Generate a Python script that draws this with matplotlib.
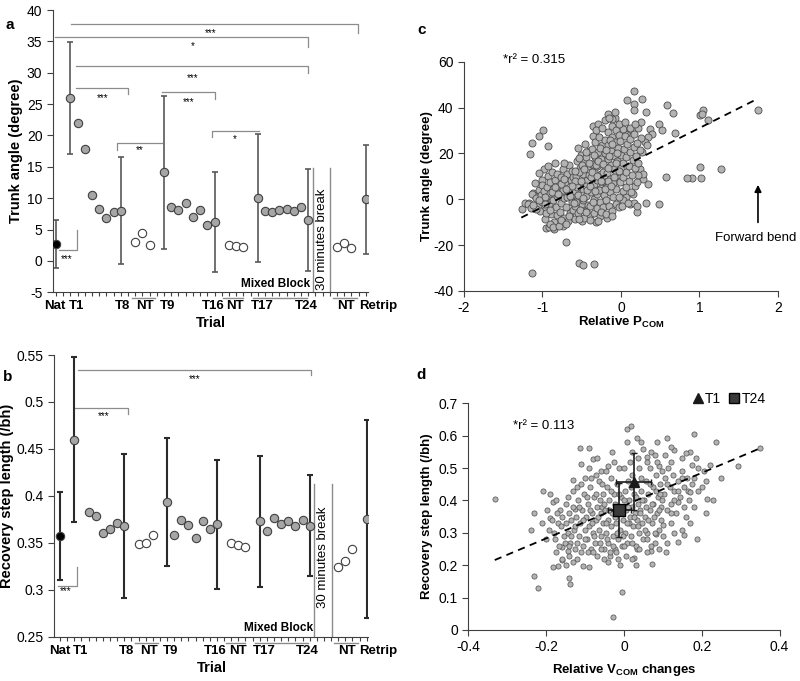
import numpy as np
import matplotlib
matplotlib.use('Agg')
import matplotlib.pyplot as plt
from matplotlib.lines import Line2D

plt.rcParams['font.family'] = ['Liberation Sans', 'DejaVu Sans']
plt.rcParams['axes.unicode_minus'] = False
plt.rcParams['mathtext.fontset'] = 'custom'
plt.rcParams['mathtext.rm'] = 'Liberation Sans'
plt.rcParams['mathtext.bf'] = 'Liberation Sans:bold'

# ---------------- datos paneles a / b (medias por ensayo) ----------------
# orden: Nat, T1-T8, NT x3, T9-T16, NT x3, T17-T24, NT x3, Retrip
tipo = (['nat'] + ['tr'] * 8 + ['nt'] * 3 + ['tr'] * 8 + ['nt'] * 3 +
        ['tr'] * 8 + ['nt'] * 3 + ['tr'])
# posicion de arranque de cada bloque sobre el eje (con huecos entre bloques)
bloques = [(0, 1), (2, 8), (11, 3), (15, 8), (24, 3), (28, 8), (39, 3), (43, 1)]

trunk_angle = [2.7,
               26.0, 22.0, 17.9, 10.5, 8.2, 6.8, 7.85, 8.0,
               3.0, 4.4, 2.5,
               14.1, 8.6, 8.1, 9.3, 7.0, 8.1, 5.7, 6.2,
               2.5, 2.4, 2.2,
               10.1, 7.9, 7.75, 8.1, 8.2, 8.0, 8.6, 6.5,
               2.2, 2.8, 2.1,
               9.8]
nan = np.nan
trunk_sd = [3.8,
            8.9, nan, nan, nan, nan, nan, nan, 8.5,
            nan, nan, nan,
            12.2, nan, nan, nan, nan, nan, nan, 8.0,
            nan, nan, nan,
            10.2, nan, nan, nan, nan, nan, nan, 8.1,
            nan, nan, nan,
            8.7]

step_length = [0.357,
               0.460, nan, 0.383, 0.3785, 0.3608, 0.365, 0.3714, 0.3679,
               0.3484, 0.3498, 0.3583,
               0.3931, 0.3583, 0.3743, 0.3686, 0.3555, 0.3736, 0.3647, 0.3697,
               0.350, 0.348, 0.3459,
               0.3729, 0.363, 0.3768, 0.370, 0.3736, 0.3675, 0.3743, 0.3683,
               0.3246, 0.331, 0.343,
               0.3754]
step_sd = [0.047,
           0.088, nan, nan, nan, nan, nan, nan, 0.077,
           nan, nan, nan,
           0.068, nan, nan, nan, nan, nan, nan, 0.069,
           nan, nan, nan,
           0.070, nan, nan, nan, nan, nan, nan, 0.054,
           nan, nan, nan,
           0.105]

etiquetas_x = ['Nat', 'T1', 'T8', 'NT', 'T9', 'T16', 'NT', 'T17', 'T24', 'NT']
etiquetas_pos = [-0.1, 2.9, 9.3, 12.4, 15.5, 21.8, 24.9, 28.6, 34.7, 40.2]

# ---------------- panel c: P_COM relativo vs angulo de tronco ----------------
c_puntos = [
    (1.74, 38.8), (1.04, 38.8), (1.01, 36.6), (1.11, 34.7), (1.03, 37.2),
    (1.28, 13.1), (1.01, 14.1), (1.02, 9.4), (0.90, 9.2), (0.84, 9.2), (0.57, 9.7),
    (0.59, 41.3), (0.66, 37.6), (0.69, 28.9), (0.48, 33.0), (0.52, 30.4),
    (0.49, -2.2), (0.32, -1.6), (0.35, 6.8), (0.20, -5.5),
    (0.17, 47.2), (0.08, 43.5), (0.27, 43.6), (0.16, 41.4), (0.17, 39.1), (0.32, 38.1),
    (-1.13, -32.1), (-0.70, -18.6), (-0.54, -27.6), (-0.49, -28.8), (-0.35, -28.1),
    (-1.16, 19.9), (-1.13, 24.7), (-1.04, 27.6), (-0.99, 30.1), (-0.93, 23.1),
    (-1.26, -4.4), (-1.22, -1.5), (-1.12, 2.8), (-1.10, 1.5), (-1.17, -1.8),
    (-0.95, -12.5), (-0.85, -12.8), (-0.74, -11.8), (-0.92, -12.0),
    (-0.84, 15.8), (-0.98, 13.4), (-1.01, 8.3), (-0.18, -8.0), (-0.32, -9.9),
    (-0.36, 31.8), (-0.29, 33.0), (-0.17, 37.0), (-0.08, 35.6), (-0.12, 35.0),
    (0.08, 29.4), (0.03, 30.5), (0.12, 30.8), (0.22, 31.0), (0.26, 33.8),
    (0.37, 30.6), (0.39, 28.5), (0.35, 27.0), (0.31, 25.0), (0.27, 20.5),
    (0.25, 26.8), (0.33, 23.5), (0.24, 13.0), (0.28, 8.8), (0.28, 11.0),
    (0.18, 6.0), (0.22, 10.5), (0.15, 2.5), (0.06, 1.0), (0.02, -0.5),
    (0.11, -2.2), (0.16, -1.5),
    (-1.19, -2.0), (-1.15, -3.6), (-1.14, 2.2), (-1.08, 0.5), (-1.06, -2.8),
    (-1.05, 4.0), (-1.03, -5.0), (-1.02, 1.8), (-1.08, -4.2), (-1.00, 6.2),
    (-1.01, -1.0), (-1.04, 11.5), (-1.10, 7.0), (-1.12, -2.5), (-0.98, 3.5),
    (-0.97, -8.5), (-0.96, -4.0), (-0.95, 0.8), (-0.94, 5.5), (-0.93, 10.0),
    (-0.92, -2.2), (-0.91, 2.8), (-0.90, 7.5), (-0.89, -6.5), (-0.88, 12.0),
    (-0.87, -0.5), (-0.86, 4.5), (-0.85, -10.0), (-0.84, 8.5), (-0.83, -3.5),
    (-0.82, 1.5), (-0.81, -7.0), (-0.80, 6.0), (-0.90, -11.0), (-0.95, -5.8),
    (-0.86, -12.0), (-0.93, 14.5), (-0.82, 11.0), (-0.88, 3.0), (-0.97, 1.0),
    (-0.79, -11.5), (-0.78, -5.5), (-0.78, 2.0), (-0.77, 9.5), (-0.76, -1.5),
    (-0.75, 5.0), (-0.74, 13.0), (-0.73, -8.0), (-0.72, 0.5), (-0.71, 7.5),
    (-0.70, -3.5), (-0.69, 11.0), (-0.68, -9.5), (-0.67, 3.5), (-0.66, 15.0),
    (-0.65, -6.0), (-0.64, 8.5), (-0.63, -1.0), (-0.62, 12.5), (-0.61, -4.5),
    (-0.60, 5.5), (-0.76, -9.0), (-0.72, 16.0), (-0.70, -11.0), (-0.66, -7.5),
    (-0.63, 2.0), (-0.74, 4.0), (-0.69, 1.0), (-0.61, 9.5), (-0.77, 6.5),
    (-0.59, -8.5), (-0.58, -3.0), (-0.58, 3.5), (-0.57, 10.0), (-0.56, 16.5),
    (-0.55, 22.5), (-0.55, -6.0), (-0.54, 0.5), (-0.53, 7.0), (-0.52, 13.5),
    (-0.51, 19.5), (-0.50, -9.5), (-0.50, -2.0), (-0.49, 4.5), (-0.48, 11.0),
    (-0.47, 17.0), (-0.46, 24.0), (-0.45, -5.0), (-0.44, 1.5), (-0.43, 8.5),
    (-0.42, 14.5), (-0.41, 21.0), (-0.40, -7.5), (-0.56, 5.5), (-0.52, -4.5),
    (-0.48, -0.5), (-0.45, 6.0), (-0.42, -2.5), (-0.53, 12.0), (-0.57, -1.0),
    (-0.44, 18.5), (-0.50, 15.0), (-0.58, 8.0), (-0.47, -8.0), (-0.41, 10.5),
    (-0.39, -9.0), (-0.39, -3.0), (-0.38, 3.0), (-0.38, 9.5), (-0.37, 15.5),
    (-0.37, 22.0), (-0.36, 27.5), (-0.35, -6.0), (-0.35, 0.0), (-0.34, 6.5),
    (-0.34, 12.5), (-0.33, 18.5), (-0.33, 25.0), (-0.32, 30.0), (-0.31, -4.0),
    (-0.31, 2.5), (-0.30, 8.5), (-0.30, 14.5), (-0.29, 20.5), (-0.28, 27.0),
    (-0.27, -7.5), (-0.27, -1.0), (-0.26, 5.0), (-0.26, 11.0), (-0.25, 17.5),
    (-0.24, 23.5), (-0.24, 31.0), (-0.23, -3.5), (-0.22, 2.0), (-0.22, 8.0),
    (-0.21, 14.0), (-0.21, 20.0), (-0.20, 26.0), (-0.20, 34.5), (-0.29, -9.5),
    (-0.36, -1.0), (-0.25, -5.5), (-0.32, 15.0), (-0.23, 12.0), (-0.28, 4.0),
    (-0.19, -6.5), (-0.19, -0.5), (-0.18, 5.5), (-0.18, 11.5), (-0.17, 17.5),
    (-0.17, 23.5), (-0.16, 29.5), (-0.15, 35.5), (-0.15, -3.0), (-0.14, 3.0),
    (-0.14, 9.0), (-0.13, 15.0), (-0.13, 21.0), (-0.12, 27.0), (-0.11, 32.0),
    (-0.11, -5.0), (-0.10, 1.0), (-0.10, 7.0), (-0.09, 13.0), (-0.09, 19.0),
    (-0.08, 25.0), (-0.07, 30.0), (-0.06, -2.0), (-0.06, 4.5), (-0.05, 10.5),
    (-0.05, 16.5), (-0.04, 22.5), (-0.03, 28.0), (-0.02, 33.0), (-0.02, 1.0),
    (-0.01, 7.5), (0.00, 13.5), (0.00, 19.5), (-0.01, 25.5), (-0.16, 8.0),
    (-0.12, -7.5), (-0.07, 12.0), (-0.03, -3.5), (-0.14, 26.0), (-0.08, 38.0),
    (0.01, -3.0), (0.02, 3.5), (0.03, 9.5), (0.03, 16.0), (0.04, 22.0),
    (0.05, 27.5), (0.06, 5.5), (0.07, 12.0), (0.07, 18.5), (0.08, 24.0),
    (0.09, -1.5), (0.10, 8.0), (0.10, 14.5), (0.11, 20.5), (0.12, 26.5),
    (0.13, 3.0), (0.14, 10.5), (0.15, 17.0), (0.16, 23.0), (0.17, 28.5),
    (0.18, 13.5), (0.19, 19.0), (0.20, 7.5), (0.21, 24.5), (0.22, 16.0),
    (0.24, 21.5), (0.12, 31.0), (0.05, 33.5), (0.18, 33.0), (0.20, -3.0),
    (-0.65, 1.5), (-0.62, 6.0), (-0.58, 12.5), (-0.55, 2.0), (-0.53, 18.0),
    (-0.51, 8.0), (-0.49, 0.5), (-0.47, 13.0), (-0.45, 20.5), (-0.43, 4.0),
    (-0.41, 16.0), (-0.39, 6.0), (-0.37, 12.0), (-0.35, 19.5), (-0.33, 3.5),
    (-0.31, 10.0), (-0.29, 16.5), (-0.27, 22.5), (-0.25, 8.0), (-0.23, 15.5),
    (-0.21, 4.5), (-0.19, 21.5), (-0.17, 13.5), (-0.15, 19.0), (-0.13, 6.0),
    (-0.11, 24.0), (-0.09, 9.5), (-0.07, 16.0), (-0.05, 20.0), (-0.03, 12.5),
    (-0.70, 4.5), (-0.73, 9.0), (-0.80, 2.5), (-0.84, 5.5), (-0.91, -4.5),
    (-0.97, -2.0), (-1.05, -0.5), (-0.60, -1.5), (-0.54, -8.5), (-0.44, -5.5),
]
c_pcom = [p[0] for p in c_puntos]
c_trunk = [p[1] for p in c_puntos]
c_ajuste_x = [-1.27, 1.75]
c_ajuste_y = [-8.0, 44.0]

# ---------------- panel d: V_COM relativo vs longitud de paso ----------------
d_puntos = [
    (-0.332, 0.404), (-0.231, 0.167), (-0.220, 0.131), (-0.207, 0.430),
    (-0.183, 0.394), (-0.113, 0.562), (-0.090, 0.561), (-0.079, 0.527),
    (-0.130, 0.462), (-0.029, 0.039), (-0.006, 0.116), (0.007, 0.621),
    (0.017, 0.630), (0.009, 0.581), (0.033, 0.592), (0.043, 0.582),
    (0.110, 0.594), (0.084, 0.582), (0.180, 0.605), (0.237, 0.582),
    (0.350, 0.561), (0.292, 0.507), (0.213, 0.404), (0.189, 0.281),
    (0.071, 0.204), (0.070, 0.245), (0.033, 0.249), (0.026, 0.221),
    (-0.089, 0.194), (-0.106, 0.198), (-0.139, 0.142), (-0.141, 0.160),
    (-0.158, 0.216), (-0.169, 0.198), (-0.182, 0.196), (-0.110, 0.512),
    (0.107, 0.240), (0.138, 0.271), (0.155, 0.294), (0.082, 0.297),
    (0.170, 0.550), (0.160, 0.545), (0.185, 0.530), (0.175, 0.510),
    (0.150, 0.470), (0.130, 0.555), (0.120, 0.565), (0.105, 0.540),
    (0.090, 0.505), (0.070, 0.550), (0.060, 0.535), (-0.145, 0.245),
    (-0.160, 0.255), (-0.155, 0.290), (-0.170, 0.330), (-0.165, 0.370),
    (-0.190, 0.345), (-0.150, 0.390), (-0.145, 0.410), (-0.120, 0.440),
    (-0.125, 0.375), (-0.040, 0.505), (-0.060, 0.490), (0.140, 0.395),
    (0.160, 0.350), (0.165, 0.430), (0.170, 0.425), (0.120, 0.330),
    (0.100, 0.325), (0.190, 0.500), (0.200, 0.440),
    (-0.148, 0.33), (-0.145, 0.30), (-0.142, 0.36), (-0.138, 0.27),
    (-0.135, 0.34), (-0.132, 0.38), (-0.128, 0.31), (-0.125, 0.25),
    (-0.122, 0.35), (-0.118, 0.40), (-0.115, 0.29), (-0.112, 0.33),
    (-0.108, 0.37), (-0.105, 0.26), (-0.102, 0.42), (-0.100, 0.31),
    (-0.140, 0.23), (-0.120, 0.22), (-0.130, 0.43), (-0.110, 0.45),
    (-0.098, 0.35), (-0.095, 0.28), (-0.093, 0.39), (-0.090, 0.32),
    (-0.088, 0.44), (-0.085, 0.25), (-0.083, 0.36), (-0.080, 0.30),
    (-0.078, 0.41), (-0.075, 0.27), (-0.073, 0.34), (-0.070, 0.38),
    (-0.068, 0.23), (-0.065, 0.46), (-0.063, 0.31), (-0.060, 0.36),
    (-0.058, 0.29), (-0.055, 0.42), (-0.053, 0.33), (-0.050, 0.25),
    (-0.092, 0.24), (-0.072, 0.48), (-0.062, 0.40), (-0.085, 0.47),
    (-0.056, 0.38),
    (-0.048, 0.37), (-0.046, 0.30), (-0.044, 0.44), (-0.042, 0.27),
    (-0.040, 0.34), (-0.038, 0.40), (-0.036, 0.23), (-0.034, 0.47),
    (-0.032, 0.32), (-0.030, 0.36), (-0.028, 0.29), (-0.026, 0.42),
    (-0.024, 0.25), (-0.022, 0.39), (-0.020, 0.33), (-0.018, 0.45),
    (-0.016, 0.28), (-0.014, 0.36), (-0.012, 0.50), (-0.010, 0.31),
    (-0.008, 0.41), (-0.006, 0.26), (-0.004, 0.38), (-0.002, 0.34),
    (-0.045, 0.49), (-0.025, 0.52), (-0.035, 0.24), (-0.015, 0.22),
    (0.002, 0.43), (0.004, 0.30), (0.006, 0.37), (0.008, 0.27),
    (0.010, 0.46), (0.012, 0.33), (0.014, 0.40), (0.016, 0.35),
    (0.018, 0.29), (0.020, 0.48), (0.022, 0.38), (0.024, 0.32),
    (0.026, 0.42), (0.028, 0.36), (0.030, 0.26), (0.032, 0.45),
    (0.034, 0.34), (0.036, 0.39), (0.038, 0.30), (0.040, 0.50),
    (0.042, 0.37), (0.044, 0.43), (0.046, 0.33), (0.048, 0.28),
    (0.015, 0.52), (0.035, 0.53), (0.005, 0.23), (0.045, 0.47),
    (0.052, 0.40), (0.055, 0.35), (0.058, 0.46), (0.060, 0.30),
    (0.063, 0.42), (0.066, 0.37), (0.068, 0.50), (0.071, 0.33),
    (0.074, 0.44), (0.076, 0.39), (0.079, 0.27), (0.082, 0.48),
    (0.084, 0.36), (0.087, 0.41), (0.090, 0.31), (0.093, 0.45),
    (0.095, 0.38), (0.098, 0.49), (0.060, 0.52), (0.085, 0.52),
    (0.070, 0.26), (0.095, 0.34),
    (0.102, 0.42), (0.106, 0.47), (0.110, 0.37), (0.114, 0.50),
    (0.118, 0.44), (0.122, 0.39), (0.126, 0.48), (0.130, 0.43),
    (0.135, 0.36), (0.140, 0.46), (0.145, 0.41), (0.150, 0.49),
    (0.155, 0.44), (0.162, 0.47), (0.168, 0.40), (0.175, 0.45),
    (-0.198, 0.37), (-0.192, 0.31), (-0.185, 0.34), (-0.178, 0.28),
    (-0.172, 0.36), (-0.168, 0.26), (-0.162, 0.32), (-0.158, 0.35),
    (-0.152, 0.27), (-0.175, 0.24),
    (-0.095, 0.41), (-0.088, 0.37), (-0.082, 0.33), (-0.077, 0.29),
    (-0.071, 0.42), (-0.066, 0.35), (-0.061, 0.27), (-0.057, 0.45),
    (-0.052, 0.39), (-0.047, 0.33), (-0.043, 0.28), (-0.039, 0.37),
    (-0.033, 0.43), (-0.029, 0.26), (-0.023, 0.35), (-0.019, 0.30),
    (-0.013, 0.42), (-0.009, 0.36), (-0.003, 0.29), (0.001, 0.40),
    (0.007, 0.33), (0.011, 0.38), (0.017, 0.44), (0.021, 0.27),
    (0.027, 0.35), (0.031, 0.41), (0.037, 0.32), (0.041, 0.36),
    (0.047, 0.40), (0.053, 0.31), (0.057, 0.38), (0.062, 0.34),
    (0.067, 0.45), (0.072, 0.39), (0.078, 0.35), (0.083, 0.43),
    (0.089, 0.37), (0.094, 0.42), (0.099, 0.40), (-0.105, 0.34),
    (-0.115, 0.38), (-0.125, 0.32), (-0.135, 0.29), (-0.120, 0.27),
    (-0.100, 0.28), (-0.080, 0.24), (-0.060, 0.25), (-0.040, 0.21),
    (-0.020, 0.24), (0.000, 0.26), (0.020, 0.22), (0.040, 0.25),
    (0.060, 0.28), (0.080, 0.30), (0.100, 0.29), (0.120, 0.36),
    (0.130, 0.40), (0.110, 0.45), (0.140, 0.43), (0.155, 0.38),
    (-0.19, 0.42), (-0.18, 0.30), (-0.175, 0.40), (-0.16, 0.22),
    (-0.15, 0.20), (-0.13, 0.21), (-0.10, 0.47), (-0.09, 0.50),
    (-0.07, 0.53), (-0.03, 0.55), (0.00, 0.50), (0.02, 0.55),
    (0.05, 0.56), (0.08, 0.54), (0.12, 0.52), (0.15, 0.53),
    (0.18, 0.47), (0.19, 0.43), (0.18, 0.38), (0.17, 0.33),
    (0.15, 0.31), (0.13, 0.30), (0.11, 0.27), (0.09, 0.25),
    (0.06, 0.24), (0.03, 0.20), (-0.01, 0.20), (-0.05, 0.22),
    (-0.11, 0.24), (-0.14, 0.26), (-0.20, 0.28), (-0.21, 0.33),
    (0.21, 0.46), (0.205, 0.49), (0.22, 0.51), (0.25, 0.47),
    (-0.23, 0.36), (-0.24, 0.31), (0.23, 0.40), (0.21, 0.36),
]
d_vcom = [p[0] for p in d_puntos]
d_paso = [p[1] for p in d_puntos]
d_ajuste_x = [-0.332, 0.35]
d_ajuste_y = [0.216, 0.561]
# medias T1 y T24 (x, y, error x, error y)
t1_media = (0.025, 0.458, 0.045, 0.088)
t24_media = (-0.012, 0.370, 0.030, 0.083)

GRIS = '#a6a6a6'
BORDE = '#404040'
LINEA = '#8c8c8c'


def posiciones():
    pos = []
    for ini, n in bloques:
        pos += list(range(ini, ini + n))
    return np.array(pos, dtype=float)


def panel_ensayos(ax, vals, sd, xlim, ylim, yticks, ylabel, col_err, lw_err):
    x = posiciones()
    vals = np.array(vals)
    sd = np.array(sd)
    tp = np.array(tipo)
    m = ~np.isnan(sd)
    ax.errorbar(x[m], vals[m], yerr=sd[m], fmt='none', ecolor=col_err,
                elinewidth=lw_err, capsize=2.5, capthick=lw_err, zorder=2)
    estilos = {'nat': 'black', 'tr': GRIS, 'nt': 'white'}
    for t, fc in estilos.items():
        mm = tp == t
        ax.plot(x[mm], vals[mm], 'o', ms=6, mfc=fc, mec=BORDE, mew=0.8,
                ls='none', zorder=3)
    ax.set_xlim(*xlim)
    ax.set_ylim(*ylim)
    ax.set_yticks(yticks)
    ax.set_yticklabels([f'{v:g}' for v in yticks], fontsize=10)
    ax.set_xticks(np.arange(0, 44))
    ax.set_xticklabels([])
    ax.tick_params(axis='x', length=3, width=0.8, color=BORDE)
    ax.tick_params(axis='y', length=4, width=0.8, color=BORDE)
    for s in ['top', 'right']:
        ax.spines[s].set_visible(False)
    for s in ['left', 'bottom']:
        ax.spines[s].set_color(BORDE)
    ax.set_ylabel(ylabel, fontsize=10.5, fontweight='bold')
    ax.set_xlabel('Trial', fontsize=10.5, fontweight='bold')
    tr = ax.get_xaxis_transform()
    for lab, p in zip(etiquetas_x, etiquetas_pos):
        ax.text(p, -0.05, lab, transform=tr, ha='center', va='center',
                fontsize=9.5, fontweight='bold')
    ax.text(42.0, -0.05, 'Retrip', transform=tr, ha='left', va='center',
            fontsize=9.5, fontweight='bold')
    for x0, x1 in [(10.5, 13.7), (23.2, 25.9), (27.4, 34.8), (38.4, 41.8)]:
        ax.plot([x0, x1], [-0.021, -0.021], transform=tr, color=LINEA,
                lw=1, clip_on=False)


def corchete(ax, x0, x1, y, ycae, lado, tx, ty, txt):
    if lado == 'der':
        ax.plot([x0, x1, x1], [y, y, ycae], color=LINEA, lw=0.9, zorder=1)
    else:
        ax.plot([x0, x0, x1], [ycae, y, y], color=LINEA, lw=0.9, zorder=1)
    ax.text(tx, ty, txt, ha='center', va='center', fontsize=7)


fig = plt.figure(figsize=(8, 6.81), dpi=100)

# ---- a
ax_a = fig.add_axes([0.066, 0.5708, 0.394, 0.4145])
panel_ensayos(ax_a, trunk_angle, trunk_sd, (-0.44, 43.3), (-5, 40),
              list(range(-5, 41, 5)), 'Trunk angle (degree)', '#595959', 1.2)
for c in [(2.15, 41.9, 37.8, 36.3, 'der', 21.4, 36.4, '***'),
          (-0.17, 35.0, 35.75, 34.15, 'der', 19.0, 34.3, '*'),
          (2.75, 35.0, 31.0, 30.0, 'der', 19.0, 29.2, '***'),
          (2.75, 9.97, 27.6, 26.55, 'der', 6.5, 25.9, '***'),
          (14.7, 22.05, 27.0, 25.8, 'der', 18.4, 25.4, '***'),
          (8.44, 14.7, 18.75, 17.7, 'izq', 11.6, 17.6, '**'),
          (21.7, 28.2, 20.75, 19.8, 'izq', 24.8, 19.4, '*')]:
    corchete(ax_a, *c)
ax_a.plot([0.43, 2.93, 2.93], [1.75, 1.75, 4.9], color=LINEA, lw=0.9)
ax_a.text(1.46, 0.3, '***', ha='center', va='center', fontsize=7)
for xb in [35.7, 38.0]:
    ax_a.plot([xb, xb], [-5, 14.75], color=LINEA, lw=1)
ax_a.text(36.9, -4.6, '30 minutes break', rotation=90, ha='center',
          va='bottom', fontsize=9.5)
ax_a.text(30.5, -3.6, 'Mixed Block', ha='center', va='center', fontsize=8.5,
          fontweight='bold')
ax_a.yaxis.set_label_coords(-0.095, 0.5)
ax_a.xaxis.set_label_coords(0.5, -0.085)

# ---- b
ax_b = fig.add_axes([0.068, 0.065, 0.3925, 0.4137])
b_ticks = [0.25, 0.3, 0.35, 0.4, 0.45, 0.5, 0.55]
panel_ensayos(ax_b, step_length, step_sd, (-0.8, 43.24), (0.25, 0.55),
              b_ticks, 'Recovery step length (/bh)', '#2b2b2b', 1.5)
for c in [(2.48, 35.2, 0.534, 0.5287, 'der', 18.8, 0.524, '***'),
          (2.0, 9.5, 0.4939, 0.4872, 'der', 6.07, 0.485, '***')]:
    corchete(ax_b, *c)
ax_b.plot([-0.24, 2.34, 2.34], [0.304, 0.304, 0.3246], color=LINEA, lw=0.9)
ax_b.text(0.84, 0.2985, '***', ha='center', va='center', fontsize=7)
for xb in [35.6, 38.1]:
    ax_b.plot([xb, xb], [0.25, 0.413], color=LINEA, lw=1)
ax_b.text(36.9, 0.281, '30 minutes break', rotation=90, ha='center',
          va='bottom', fontsize=9.5)
ax_b.text(30.6, 0.259, 'Mixed Block', ha='center', va='center', fontsize=8.5,
          fontweight='bold')
ax_b.yaxis.set_label_coords(-0.128, 0.5)
ax_b.xaxis.set_label_coords(0.5, -0.087)

# ---- c
ax_c = fig.add_axes([0.580, 0.5727, 0.3925, 0.3367])
ax_c.scatter(c_pcom, c_trunk, s=26, c='#b3b3b3', edgecolors='#4d4d4d',
             linewidths=0.6, zorder=2)
ax_c.plot(c_ajuste_x, c_ajuste_y, ls=(0, (4, 3)), color='black', lw=1.3,
          zorder=3)
ax_c.set_xlim(-2, 2)
ax_c.set_ylim(-40, 60)
ax_c.set_xticks([-2, -1, 0, 1, 2])
ax_c.set_yticks([-40, -20, 0, 20, 40, 60])
ax_c.tick_params(labelsize=10, length=4, width=0.8, color=BORDE)
ax_c.annotate('', xy=(1.745, 7.5), xytext=(1.745, -11.3),
              arrowprops=dict(arrowstyle='-|>', color='black', lw=1.2,
                              mutation_scale=10))
ax_c.text(1.71, -17.1, 'Forward bend', ha='center', va='center', fontsize=9.5)
ax_c.text(-1.5, 60.6, '*r² = 0.315', ha='left', va='center', fontsize=9.5)
ax_c.set_ylabel('Trunk angle (degree)', fontsize=9.5, fontweight='bold')
ax_c.set_xlabel(r'Relative P$_{\mathbf{COM}}$', fontsize=9.5,
                fontweight='bold')
ax_c.yaxis.set_label_coords(-0.1, 0.5)
ax_c.xaxis.set_label_coords(0.5, -0.105)

# ---- d
ax_d = fig.add_axes([0.5854, 0.0749, 0.389, 0.3329])
ax_d.scatter(d_vcom, d_paso, s=14, c='#b3b3b3', edgecolors='#4d4d4d',
             linewidths=0.5, zorder=2)
ax_d.plot(d_ajuste_x, d_ajuste_y, ls=(0, (4, 3)), color='black', lw=1.3,
          zorder=3)
ax_d.errorbar(t1_media[0], t1_media[1], xerr=t1_media[2], yerr=t1_media[3],
              fmt='^', ms=7, color='#1a1a1a', ecolor='#1a1a1a', elinewidth=1.2,
              capsize=2.5, zorder=4)
ax_d.errorbar(t24_media[0], t24_media[1], xerr=t24_media[2],
              yerr=t24_media[3], fmt='s', ms=8, mfc='#3a3a3a', mec='black',
              ecolor='#1a1a1a', elinewidth=1.2, capsize=2.5, zorder=4)
ax_d.set_xlim(-0.4, 0.4)
ax_d.set_ylim(0, 0.7)
d_xt = [-0.4, -0.2, 0, 0.2, 0.4]
d_yt = [0, 0.1, 0.2, 0.3, 0.4, 0.5, 0.6, 0.7]
ax_d.set_xticks(d_xt)
ax_d.set_xticklabels([f'{v:g}' for v in d_xt])
ax_d.set_yticks(d_yt)
ax_d.set_yticklabels([f'{v:g}' for v in d_yt])
ax_d.tick_params(labelsize=10, length=4, width=0.8, color=BORDE)
ax_d.text(-0.285, 0.63, '*r² = 0.113', ha='left', va='center', fontsize=9.5)
ax_d.set_ylabel('Recovery step length (/bh)', fontsize=9.5, fontweight='bold')
ax_d.set_xlabel(r'Relative V$_{\mathbf{COM}}$ changes', fontsize=9.5,
                fontweight='bold')
ax_d.yaxis.set_label_coords(-0.115, 0.5)
ax_d.xaxis.set_label_coords(0.5, -0.14)
mano = [Line2D([], [], marker='^', ls='none', color='#1a1a1a', ms=7),
        Line2D([], [], marker='s', ls='none', mfc='#3a3a3a', mec='black', ms=7)]
ax_d.legend(mano, ['T1', 'T24'], loc='lower right', bbox_to_anchor=(0.955, 0.99),
            ncol=2, frameon=False, fontsize=10, handletextpad=0.05,
            columnspacing=0.5, handlelength=0.9, borderaxespad=0, borderpad=0)

for ax in [ax_c, ax_d]:
    for s in ['top', 'right']:
        ax.spines[s].set_visible(False)
    for s in ['left', 'bottom']:
        ax.spines[s].set_color(BORDE)

for txt, xf, yf in [('a', 0.0125, 0.963), ('b', 0.009, 0.447),
                    ('c', 0.527, 0.956), ('d', 0.526, 0.449)]:
    fig.text(xf, yf, txt, ha='center', va='center', fontsize=11,
             fontweight='bold')

fig.savefig('out.png', dpi=100)
